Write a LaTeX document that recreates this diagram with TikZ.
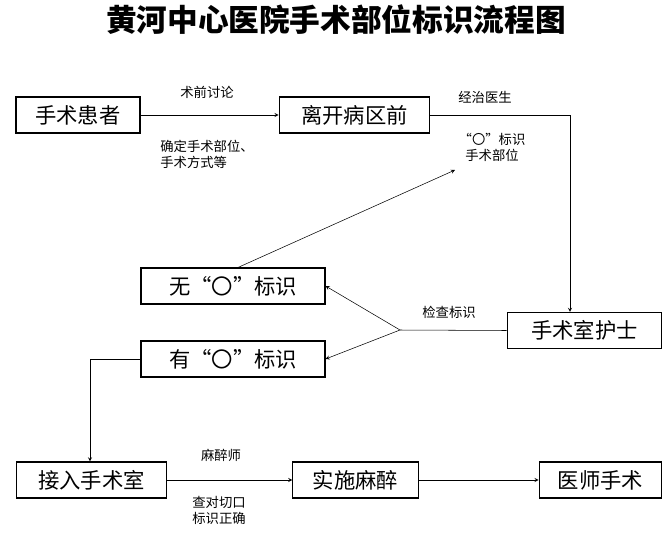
\documentclass[tikz,border=0pt]{standalone}
\usepackage{fontspec}
\setmainfont{Noto Sans CJK SC}
\begin{document}
\begin{tikzpicture}[x=0.75pt,y=-0.75pt,
 box/.style={draw,thick,minimum height=27pt,inner sep=0pt,font=\fontsize{16}{18}\selectfont},
 lab/.style={font=\fontsize{10}{12}\selectfont,align=left},
 arr/.style={->,>=stealth}]
\useasboundingbox (0,0) rectangle (672,533);
\node[font=\fontsize{23}{26}\selectfont\bfseries] (t) at (336,20) {黄河中心医院手术部位标识流程图};
\node[box,minimum width=93pt] (a) at (78,115) {手术患者};
\node[box,minimum width=113pt] (b) at (354.5,115) {离开病区前};
\node[box,minimum width=116pt] (c) at (584.5,330.5) {手术室护士};
\node[box,minimum width=138pt] (w) at (233,286) {无“〇”标识};
\node[box,minimum width=138pt] (y) at (233,359) {有“〇”标识};
\node[box,minimum width=113pt] (d) at (91.5,480) {接入手术室};
\node[box,minimum width=94pt] (e) at (355.5,480) {实施麻醉};
\node[box,minimum width=92pt] (f) at (600.5,480) {医师手术};
\node[lab] (l1) at (207,92) {术前讨论};
\node[lab] (l2) at (207,154) {确定手术部位、\\手术方式等};
\node[lab] (l3) at (485,97) {经治医生};
\node[lab,align=center] (l4) at (492,147) {“〇”标识\\手术部位};
\node[lab] (l5) at (449,312) {检查标识};
\node[lab] (l6) at (221,455) {麻醉师};
\node[lab] (l7) at (219,510) {查对切口\\标识正确};
\coordinate (k1) at (570,115);
\coordinate (k2) at (400,330);
\coordinate (k3) at (90,359);
\coordinate (p) at (455,170);
\draw[arr] (a) -- (b);
\draw[arr] (b.east) -- (k1) -- (c.north -| k1);
\draw[arr] (w.north) ++(5,0) -- (p);
\draw (c.west) -- (k2);
\draw[arr] (k2) -- (w.east);
\draw[arr] (k2) -- (y.east);
\draw[arr] (y.west) -- (k3) -- (d.north -| k3);
\draw[arr] (d) -- (e);
\draw[arr] (e) -- (f);
\end{tikzpicture}
\end{document}
